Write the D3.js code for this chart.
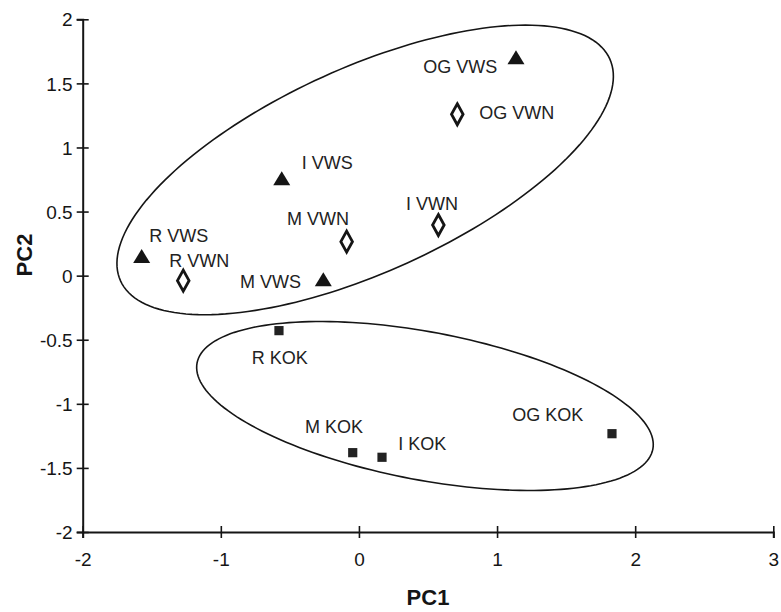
<!DOCTYPE html>
<html><head><meta charset="utf-8">
<script src="https://cdn.jsdelivr.net/npm/d3@7"></script>
<style>body{margin:0;background:#fff;} svg{display:block;}</style>
</head><body><svg id="chart" width="781" height="612"></svg>
<script>
// ---- data ----
const names  = ["R VWS","R VWN","I VWS","M VWN","M VWS","I VWN","OG VWS","OG VWN","R KOK","M KOK","I KOK","OG KOK"];
const groups = ["VWS","VWN","VWS","VWN","VWS","VWN","VWS","VWN","KOK","KOK","KOK","KOK"];
const pc1 = [-1.573,-1.272,-0.559,-0.089,-0.258,0.575,1.137,0.712,-0.579,-0.045,0.167,1.832];
const pc2 = [0.153,-0.039,0.760,0.265,-0.028,0.395,1.704,1.259,-0.429,-1.381,-1.417,-1.233];
const xTicks = [-2,-1,0,1,2,3];
const yTicks = [-2,-1.5,-1,-0.5,0,0.5,1,1.5,2];
// grouping ellipses: centre and two conjugate half-axis vectors, in PC units
const ellipseCenters = [[0.045,0.825],[0.478,-1.017]];
const ellipseAxisA   = [[1.771,0.866],[1.650,-0.336]];
const ellipseAxisB   = [[0.3055,-0.7256],[-0.0995,-0.567]];

// ---- layout (label offsets in px) ----
const labelDx = [7.6,-14,20,-59.7,-83.3,-32.3,-92.7,22,-27.3,-47.7,16.3,-99.7];
const labelDy = [-14.3,-14,-9,-16.7,9,-15,16,5,33.3,-19.4,-7.3,-13];

const svg = d3.select("#chart");
const x = d3.scaleLinear().domain([-2,3]).range([82.7,773.3]);
const y = d3.scaleLinear().domain([-2,2]).range([532,19.3]);
const ink = "#151515";
const font = "'Liberation Sans', Arial, sans-serif";

// ellipses
const line = d3.line().curve(d3.curveLinearClosed);
ellipseCenters.forEach((c,i)=>{
  const a = ellipseAxisA[i], b = ellipseAxisB[i];
  const pts = d3.range(0,360,2).map(deg=>{
    const t = deg*Math.PI/180;
    return [x(c[0]+Math.cos(t)*a[0]+Math.sin(t)*b[0]), y(c[1]+Math.cos(t)*a[1]+Math.sin(t)*b[1])];
  });
  svg.append("path").attr("d", line(pts)).attr("fill","none").attr("stroke",ink).attr("stroke-width",1.6);
});

// axes
const gx = svg.append("g").attr("transform",`translate(0,${y(-2)})`)
  .call(d3.axisBottom(x).tickValues(xTicks).tickFormat(d=>String(d)).tickSizeOuter(0).tickSize(6));
const gy = svg.append("g").attr("transform",`translate(${x(-2)},0)`)
  .call(d3.axisLeft(y).tickValues(yTicks).tickFormat(d=>String(d)).tickSizeOuter(0).tickSize(6));
[gx,gy].forEach(g=>{
  g.select(".domain").attr("stroke",ink).attr("stroke-width",2);
  g.selectAll(".tick line").attr("stroke",ink).attr("stroke-width",1.6);
  g.selectAll(".tick text").attr("fill",ink).style("font-family",font).style("font-size","19px");
});
gx.selectAll(".tick line").attr("y1",-6).attr("y2",6);
gx.selectAll(".tick text").attr("y",34).attr("dy",0);
gy.selectAll(".tick line").attr("x1",-6).attr("x2",6);
gy.selectAll(".tick text").attr("x",-10).attr("dy","0.35em");

// axis titles
svg.append("text").attr("x",(x(-2)+x(3))/2).attr("y",605).attr("text-anchor","middle")
  .style("font-family",font).style("font-size","22px").style("font-weight","bold").attr("fill",ink).text("PC1");
svg.append("text").attr("transform",`translate(32,255) rotate(-90)`).attr("text-anchor","middle")
  .style("font-family",font).style("font-size","22px").style("font-weight","bold").attr("fill",ink).text("PC2");

// markers
const shapes = {
  VWS: {d:"M0,-7L8.5,7L-8.5,7Z", fill:ink, stroke:"none", sw:0},
  VWN: {d:"M0,-10.5L5.8,0L0,10.5L-5.8,0Z", fill:"#fff", stroke:ink, sw:2.8},
  KOK: {d:"M-4.6,-4.6H4.6V4.6H-4.6Z", fill:"#222", stroke:"none", sw:0}
};
const idx = d3.range(names.length);
svg.append("g").selectAll("path").data(idx).join("path")
  .attr("transform",i=>`translate(${x(pc1[i])},${y(pc2[i])})`)
  .attr("d",i=>shapes[groups[i]].d)
  .attr("fill",i=>shapes[groups[i]].fill)
  .attr("stroke",i=>shapes[groups[i]].stroke)
  .attr("stroke-width",i=>shapes[groups[i]].sw)
  .attr("stroke-linejoin","miter");

// point labels
svg.append("g").selectAll("text").data(idx).join("text")
  .attr("x",i=>x(pc1[i])+labelDx[i]).attr("y",i=>y(pc2[i])+labelDy[i])
  .style("font-family",font).style("font-size","18px").attr("fill","#222")
  .text(i=>names[i]);
</script>
</body></html>
